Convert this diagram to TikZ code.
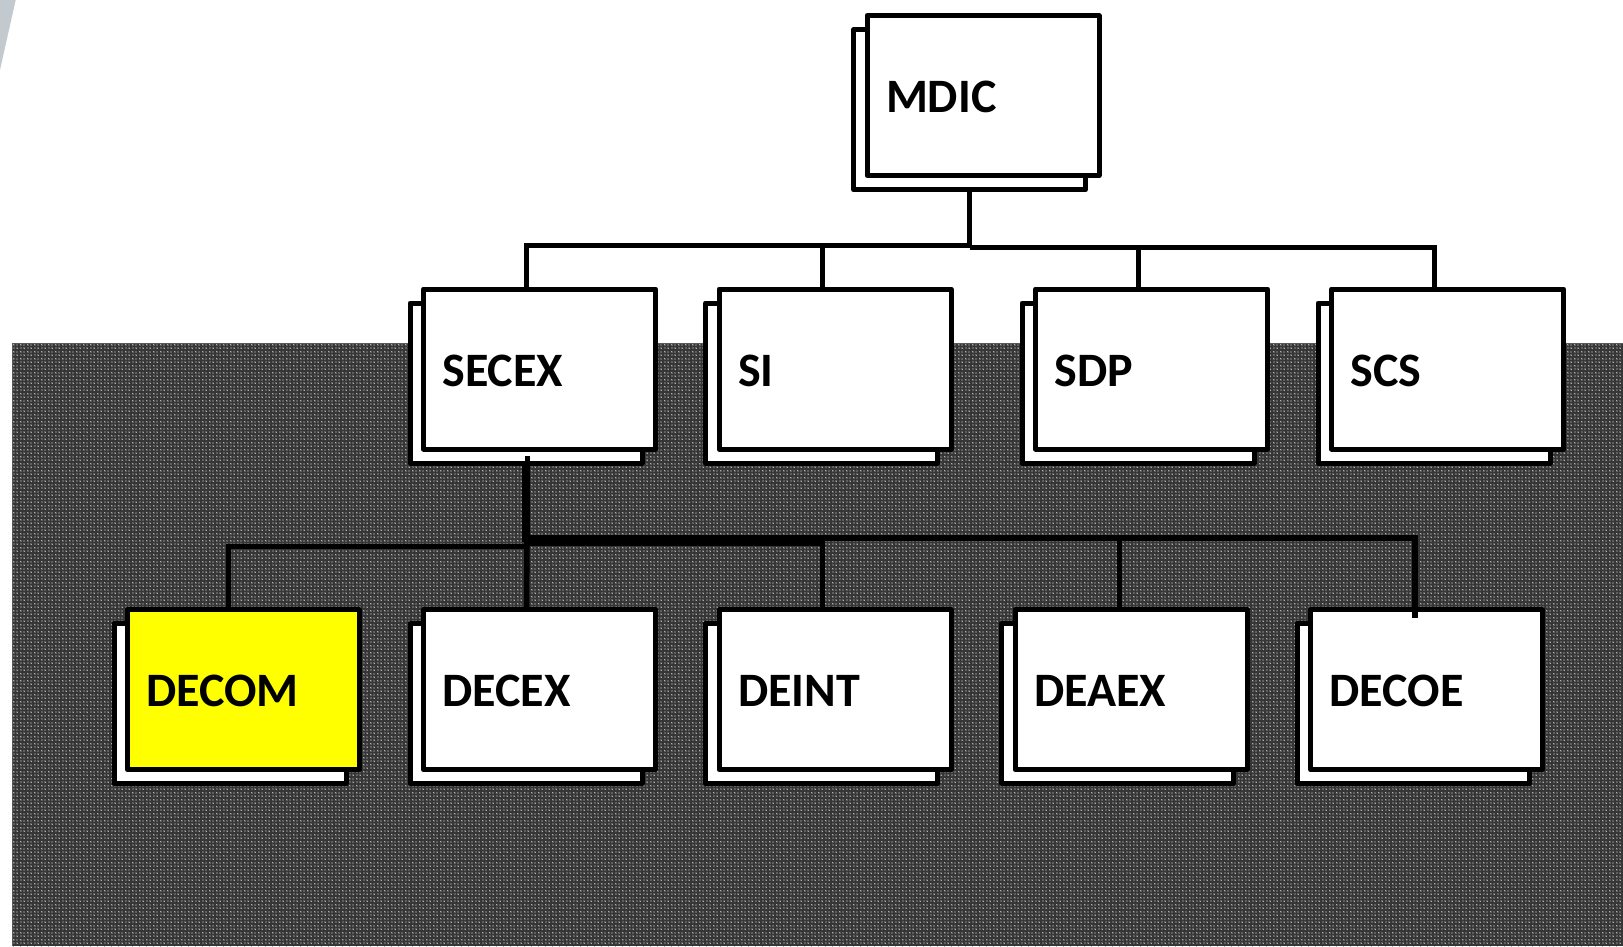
\documentclass[tikz,border=0pt]{standalone}
\usepackage{fontspec}
\setmainfont{Carlito}
\usetikzlibrary{calc}
\definecolor{wbase}{HTML}{5E5E5E}
\definecolor{wline}{HTML}{363636}
\definecolor{wdot}{HTML}{B0B0B0}
\definecolor{wedgegrey}{HTML}{C2CACF}
\definecolor{pureyellow}{RGB}{255,255,0}
\tikzset{
  orgback/.style={draw=black,fill=white,line width=5pt,line join=round,outer sep=0pt,inner sep=0pt,minimum width=232pt,minimum height=160pt},
  orgfront/.style={orgback,inner xsep=19pt,text width=194pt,align=left,text height=34pt,text depth=0pt,font=\fontsize{48pt}{48pt}\selectfont\bfseries},
  wire/.style={draw=black,line width=5pt,line cap=butt,line join=miter},
}
\newcommand{\orgbox}[5][white]{%
  \node[orgback] (#2-back) at (#3-13.5,#4+14) {};
  \node[orgfront,fill=#1] (#2) at (#3,#4) {#5};
}
\begin{document}
\begin{tikzpicture}[x=1pt,y=-1pt]
\useasboundingbox (0,0) rectangle (1623,946);
\fill[wedgegrey] (0,0) -- (15.7,0) -- (0,70) -- cycle;
% woven dark panel
\begin{scope}
\clip (12,343) rectangle (1623,946);
\fill[wbase] (12,343) rectangle (1623,946);
\foreach \i in {0,...,461} \draw[wline,line width=1.3pt] (12+3.5*\i,343) -- (12+3.5*\i,946);
\foreach \i in {0,...,173} \draw[wline,line width=1.3pt] (12,343+3.5*\i) -- (1623,343+3.5*\i);
\foreach \i in {0,2,...,172} \draw[wdot,line width=1.2pt,dash pattern=on 1.2pt off 5.8pt] (13.15,344.75+3.5*\i) -- (1623,344.75+3.5*\i);
\foreach \i in {1,3,...,173} \draw[wdot,line width=1.2pt,dash pattern=on 1.2pt off 5.8pt] (16.65,344.75+3.5*\i) -- (1623,344.75+3.5*\i);
\end{scope}
\draw[black!65,line width=1pt] (12,946) -- (12,343) -- (1623,343);

\orgbox{mdic}{983}{95.7}{MDIC}
\orgbox{secex}{539.5}{369}{SECEX}
\orgbox{si}{835}{369}{SI}
\orgbox{sdp}{1151.5}{369}{SDP}
\orgbox{scs}{1447.5}{369}{SCS}
\orgbox[pureyellow]{decom}{243.5}{689.7}{DECOM}
\orgbox{decex}{539.5}{689.7}{DECEX}
\orgbox{deint}{835}{689.7}{DEINT}
\orgbox{deaex}{1131}{689.7}{DEAEX}
\orgbox{decoe}{1426.5}{689.7}{DECOE}

% upper bus
\coordinate (busa) at ($(mdic-back.south)+(0,56)$);
\coordinate (busb) at ($(mdic-back.south)+(0,57.5)$);
\draw[wire] (mdic-back.south) -- (busb);
\draw[wire] (busa) -| ([xshift=0.5pt]secex-back.north |- secex.north);
\draw[wire] (busa) -| ([xshift=0.5pt]si-back.north |- si.north);
\draw[wire] (busb) -| ([xshift=0.5pt]sdp-back.north |- sdp.north);
\draw[wire] (busb) -| ([xshift=0.5pt]scs-back.north |- scs.north);

% lower bus
\coordinate (tip) at ($(secex-back.south)+(1,-7)$);
\coordinate (busc) at (tip |- 0,538);
\coordinate (busd) at (tip |- 0,543);
\coordinate (buse) at (tip |- 0,546.5);
\draw[wire,line width=8pt] (secex-back.south) -- ($(secex-back.south |- busc)+(0,4)$);
\draw[wire] (tip) -- (busc);
\draw[wire,line width=5.5pt] (busc) -- ([xshift=0.5pt]decex-back.north |- decex.north);
\draw[wire,line width=6pt] (busc) -| ([xshift=2pt,yshift=-8pt]decoe-back.north |- decoe.north);
\draw[wire] (busc) -| ([xshift=1.5pt]deaex-back.north |- deaex.north);
\draw[wire] (busd) -| ([xshift=1pt]deint-back.north |- deint.north);
\draw[wire] (buse) -| ([xshift=-2pt]decom-back.north |- decom.north);
\end{tikzpicture}
\end{document}
